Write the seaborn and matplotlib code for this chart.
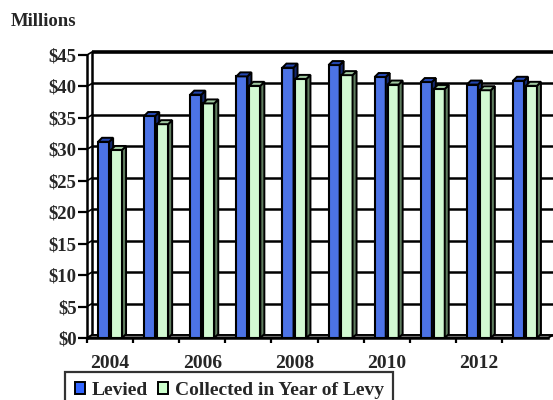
import matplotlib
matplotlib.use("Agg")
import matplotlib.pyplot as plt
from matplotlib.patches import Polygon, Patch
import seaborn as sns
import pandas as pd

# Property tax levy and collections, millions of dollars
years = ["2004", "2005", "2006", "2007", "2008", "2009", "2010", "2011", "2012", "2013"]
levied = [31.2, 35.3, 38.7, 41.6, 43.0, 43.4, 41.5, 40.7, 40.3, 40.9]
collected = [29.9, 34.0, 37.3, 40.1, 41.2, 41.8, 40.3, 39.6, 39.4, 40.1]
series = ["Levied", "Collected in Year of Levy"]
y_ticks = [0, 5, 10, 15, 20, 25, 30, 35, 40, 45]
x_labels = ["2004", "2006", "2008", "2010", "2012"]

front_colors = {"Levied": "#3366FF", "Collected in Year of Levy": "#CCFFCC"}
side_colors = {"Levied": "#14286e", "Collected in Year of Levy": "#5f7d5f"}
top_colors = {"Levied": "#2346b0", "Collected in Year of Levy": "#9fc79f"}

df = pd.DataFrame({
    "year": years * 2,
    "value": levied + collected,
    "series": [series[0]] * len(years) + [series[1]] * len(years),
})

sns.set_style("white")
plt.rcParams["font.family"] = ["Liberation Serif", "DejaVu Serif"]
plt.rcParams["font.weight"] = "bold"

W, H = 553, 400
fig = plt.figure(figsize=(W / 100, H / 100), dpi=100)
# front plane of the plot area, in pixels
left_px, right_px, top_px, bot_px = 87, 548, 55, 338
ax = fig.add_axes([left_px / W, 1 - bot_px / H,
                   (right_px - left_px) / W, (bot_px - top_px) / H])

sns.barplot(data=df, x="year", y="value", hue="series", hue_order=series,
            palette=front_colors, width=0.56, gap=0.14, dodge=True,
            edgecolor="black", linewidth=1.5, legend=False, ax=ax, zorder=3)

ax.set_xlim(-0.5, len(years) - 0.5)
ax.set_ylim(0, 45)

# pixel -> data conversions for the 3-D depth
p0 = ax.transData.transform((0, 0))
p1 = ax.transData.transform((1, 1))
px_x = p1[0] - p0[0]
px_y = p1[1] - p0[1]
wall_dx, wall_dy = 5 / px_x, 3 / px_y
bar_dx, bar_dy = 4 / px_x, 4 / px_y
x_lo, x_hi = -0.5, len(years) - 0.5

# back wall gridlines and left side wall
for v in y_ticks:
    lw = 2.6 if v == y_ticks[-1] else 1.8
    ax.plot([x_lo + wall_dx, x_hi + wall_dx + 0.2], [v + wall_dy, v + wall_dy],
            color="black", lw=lw, zorder=1, clip_on=False, solid_capstyle="butt")
    ax.plot([x_lo, x_lo + wall_dx], [v, v + wall_dy],
            color="black", lw=1.2, zorder=1, clip_on=False)
ax.plot([x_lo + wall_dx, x_lo + wall_dx], [wall_dy, 45 + wall_dy],
        color="black", lw=1.8, zorder=1, clip_on=False)
ax.plot([x_hi + wall_dx + 0.08, x_hi + wall_dx + 0.08], [wall_dy, 45 + wall_dy],
        color="#c8c8c8", lw=1.2, zorder=1, clip_on=False)

# floor slab
floor = Polygon([(x_lo, 0), (x_hi, 0), (x_hi + wall_dx, wall_dy), (x_lo + wall_dx, wall_dy)],
                closed=True, facecolor="#6e6e6e", edgecolor="black", lw=1.3,
                zorder=2, clip_on=False)
ax.add_patch(floor)

# side and top faces of each bar
n = len(years)
for k, p in enumerate(ax.patches[:2 * n]):
    name = series[k // n]
    z = 3 if name == series[0] else 4
    p.set_zorder(z)
    x0 = p.get_x()
    x1 = x0 + p.get_width()
    h = p.get_height()
    side = Polygon([(x1, 0), (x1, h), (x1 + bar_dx, h + bar_dy), (x1 + bar_dx, bar_dy)],
                   closed=True, facecolor=side_colors[name], edgecolor="black",
                   lw=1.4, zorder=z, clip_on=False)
    top = Polygon([(x0, h), (x1, h), (x1 + bar_dx, h + bar_dy), (x0 + bar_dx, h + bar_dy)],
                  closed=True, facecolor=top_colors[name], edgecolor="black",
                  lw=1.4, zorder=z, clip_on=False)
    ax.add_patch(side)
    ax.add_patch(top)

# axes, ticks and labels
for s in ["top", "right"]:
    ax.spines[s].set_visible(False)
for s in ["left", "bottom"]:
    ax.spines[s].set_color("black")
    ax.spines[s].set_linewidth(1.8)
    ax.spines[s].set_zorder(5)

ax.set_yticks(y_ticks)
ax.set_yticklabels([f"${v}" for v in y_ticks], fontsize=13.5, fontweight="bold")
ax.tick_params(axis="y", length=6.5, width=1.6, color="black", pad=1, left=True)

ax.set_xticks([0, 2, 4, 6, 8])
ax.set_xticklabels(x_labels, fontsize=14, fontweight="bold")
ax.set_xticks([i - 0.5 for i in range(len(years))], minor=True)
ax.tick_params(axis="x", which="major", length=0, pad=12)
ax.tick_params(axis="x", which="minor", length=3.6, width=1.6, color="black", bottom=True)
ax.set_xlabel("")
ax.set_ylabel("")

fig.text(11 / W, 1 - 25.7 / H, "Millions", fontsize=13.5, fontweight="bold",
         ha="left", va="baseline")

handles = [Patch(facecolor=front_colors[s], edgecolor="black", lw=1.4) for s in series]
leg = fig.legend(handles, series, loc="upper left", bbox_to_anchor=(65 / W, 1 - 372 / H),
                 ncol=2, frameon=True, fancybox=False, borderaxespad=0, borderpad=0.5,
                 handlelength=0.52, handleheight=0.6, handletextpad=0.35,
                 columnspacing=0.5, prop={"size": 14, "weight": "bold"})
leg.get_frame().set_edgecolor("black")
leg.get_frame().set_linewidth(1.6)

fig.savefig("out.png", dpi=100)
